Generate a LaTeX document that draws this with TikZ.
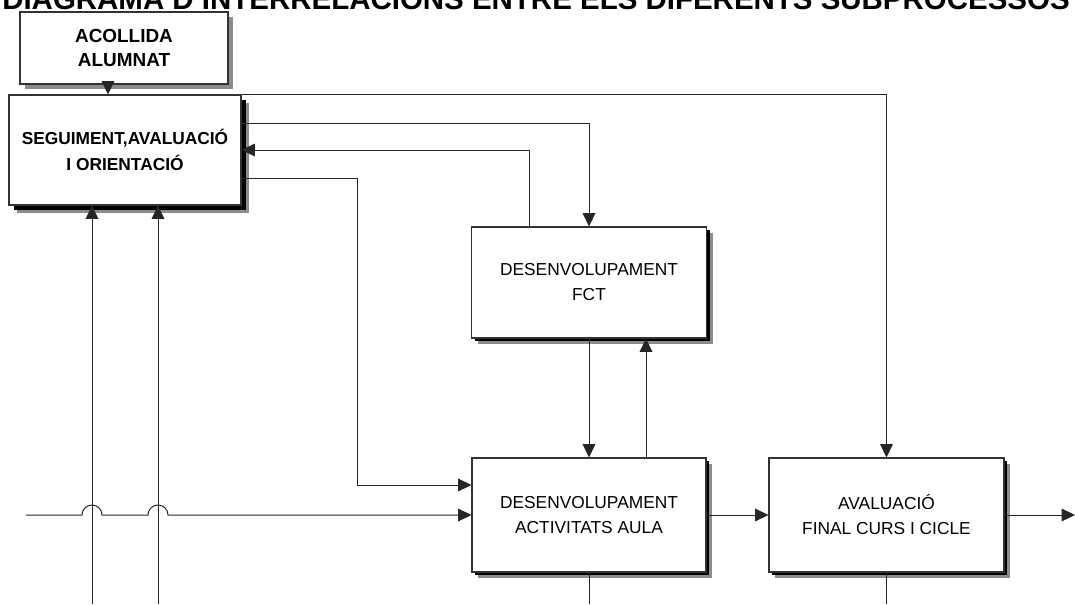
\documentclass[tikz,border=0pt]{standalone}
\usepackage{fontspec}
\setmainfont{Liberation Sans}
\usetikzlibrary{arrows.meta,shadows}
\tikzset{
  box/.style={draw=black!80, line width=0.8pt, fill=white, align=center, inner sep=0pt},
  bigshadow/.style={general shadow={shadow xshift=6pt, shadow yshift=-6pt, fill=black!45},
                    general shadow={shadow xshift=3.5pt, shadow yshift=-3.5pt, fill=black}},
  midshadow/.style={general shadow={shadow xshift=4.5pt, shadow yshift=-4.5pt, fill=black!45},
                    general shadow={shadow xshift=2.5pt, shadow yshift=-2.5pt, fill=black}},
  greyshadow/.style={general shadow={shadow xshift=4pt, shadow yshift=-4pt, fill=black!45}},
  regtext/.style={font=\fontsize{13}{18.75}\selectfont},
  boldtext/.style={font=\bfseries\fontsize{13}{19.5}\selectfont},
  bigbold/.style={font=\bfseries\fontsize{14.2}{17.6}\selectfont},
  arr/.style={draw=black!85, line width=0.75pt, -{Triangle[length=10pt,width=9.5pt]}},
  ln/.style={draw=black!85, line width=0.75pt}
}
\begin{document}
\begin{tikzpicture}[x=0.75pt,y=-0.75pt]
\useasboundingbox (0,0) rectangle (1075,604);
\clip (0,0) rectangle (1075,604);
\fill[white] (0,0) rectangle (1075,604);

% title (cut off at top, as in the reference)
\node[anchor=base west, inner sep=0pt, font=\bfseries\fontsize{22.1}{26}\selectfont] (title) at (2,9)
  {DIAGRAMA D'INTERRELACIONS ENTRE ELS DIFERENTS SUBPROCESSOS};

% boxes
\node[box, greyshadow, bigbold, minimum width=156pt, minimum height=54pt] (acollida) at (124,48)
  {ACOLLIDA\\ALUMNAT};
\node[box, bigshadow, boldtext, minimum width=174pt, minimum height=82.5pt] (seg) at (125,150)
  {SEGUIMENT,AVALUACIÓ\\I ORIENTACIÓ};
\node[box, midshadow, regtext, minimum width=176.25pt, minimum height=83.25pt] (fct) at (589,282.5)
  {DESENVOLUPAMENT\\FCT};
\node[box, midshadow, regtext, minimum width=175.5pt, minimum height=85.5pt] (aula) at (589,515)
  {DESENVOLUPAMENT\\ACTIVITATS AULA};
\node[box, midshadow, regtext, minimum width=176.25pt, minimum height=85.5pt] (aval) at (886.5,515)
  {AVALUACIÓ\\FINAL CURS I CICLE};

% free ends
\coordinate (in) at (26,515);
\coordinate (out) at (1075,515);
\coordinate (bottom) at (0,604);
\coordinate (fb1) at (92,604);
\coordinate (fb2) at (158,604);
\coordinate (bendD) at (357,485);

% connectors
\draw[arr] ([xshift=-12pt]acollida.south) -- ([xshift=-12pt]acollida.south |- seg.north);
\draw[arr] (seg.north east) -| (aval.north);
\draw[arr] ([yshift=20.25pt]seg.east) -| (fct.north);
\draw[arr] ([xshift=-45pt]fct.north) |- (seg.east);
\draw[arr] ([yshift=-21pt]seg.east) -| (bendD) -- (bendD -| aula.west);
\draw[arr] (fct.south) -- (aula.north);
\draw[arr] ([xshift=42.75pt]aula.north) -- ([xshift=42.75pt]aula.north |- fct.south);
\draw[arr] (aula.east) -- (aval.west);
\draw[arr] (aval.east) -- (out);
\draw[ln] (aula.south) -- (aula.south |- bottom);
\draw[ln] (aval.south) -- (aval.south |- bottom);
\draw[arr] (fb1) -- (fb1 |- seg.south);
\draw[arr] (fb2) -- (fb2 |- seg.south);
\draw[arr] (in) -- (82,515) .. controls (82,509.5) and (86.5,505) .. (92,505)
  .. controls (97.5,505) and (102,509.5) .. (102,515) -- (148,515)
  .. controls (148,509.5) and (152.5,505) .. (158,505)
  .. controls (163.5,505) and (168,509.5) .. (168,515) -- (aula.west);
\end{tikzpicture}
\end{document}
